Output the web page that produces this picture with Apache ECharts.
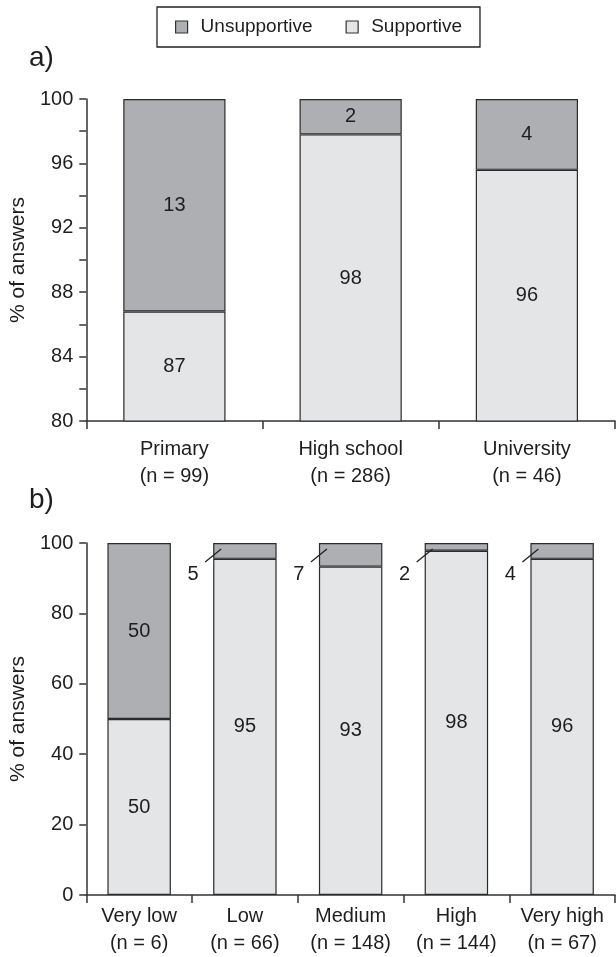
<!DOCTYPE html>
<html>
<head>
<meta charset="utf-8">
<script src="https://cdn.jsdelivr.net/npm/echarts@6/dist/echarts.min.js"></script>
<style>
html,body{margin:0;padding:0;background:#fff;}
#chart{width:616px;height:957px;}
</style>
</head>
<body>
<div id="chart"></div>
<script>
// ---- data ----
const seriesNames = ['Unsupportive', 'Supportive'];

const catsA = ['Primary\n(n = 99)', 'High school\n(n = 286)', 'University\n(n = 46)'];
const supportiveA = [86.8, 97.8, 95.6];
const unsupportiveA = [13.2, 2.2, 4.4];
const supportiveLabelsA = ['87', '98', '96'];
const unsupportiveLabelsA = ['13', '2', '4'];
const ticksA = [80, 84, 88, 92, 96, 100];

const catsB = ['Very low\n(n = 6)', 'Low\n(n = 66)', 'Medium\n(n = 148)', 'High\n(n = 144)', 'Very high\n(n = 67)'];
const supportiveB = [50, 95.5, 93.3, 97.8, 95.5];
const unsupportiveB = [50, 4.5, 6.7, 2.2, 4.5];
const supportiveLabelsB = ['50', '95', '93', '98', '96'];
const unsupportiveLabelsB = ['50', '5', '7', '2', '4'];
const ticksB = [0, 20, 40, 60, 80, 100];

// ---- style ----
const FONT = '"Liberation Sans", Arial, Helvetica, sans-serif';
const DARK = '#aeafb3';
const LIGHT = '#e4e5e7';
const EDGE = '#2b2b2b';
const TXT = '#1e1e1e';

const chart = echarts.init(document.getElementById('chart'), null, {renderer: 'canvas'});

function barItemStyle(color) {
  return {color: color, borderColor: EDGE, borderWidth: 1.2};
}
function insideLabel(labels, minVal, values) {
  return {
    show: true, position: 'inside', fontSize: 20, color: TXT, fontFamily: FONT,
    formatter: p => (values[p.dataIndex] >= minVal ? labels[p.dataIndex] : '')
  };
}
function xAxisCfg(gridIndex, cats, margin) {
  return {
    type: 'category', gridIndex: gridIndex, data: cats,
    axisLine: {show: true, lineStyle: {color: '#333', width: 1.5}},
    axisTick: {show: true, length: 8, lineStyle: {color: '#333', width: 1.5}},
    axisLabel: {fontSize: 20, color: TXT, fontFamily: FONT, lineHeight: 27, margin: margin, interval: 0}
  };
}
function yAxisCfg(gridIndex, min, max, interval, shown) {
  return {
    type: 'value', gridIndex: gridIndex, min: min, max: max, interval: interval,
    name: '% of answers', nameLocation: 'middle', nameGap: 46, nameRotate: 90,
    nameTextStyle: {fontSize: 21, color: TXT, fontFamily: FONT},
    axisLine: {show: true, lineStyle: {color: '#333', width: 1.5}},
    axisTick: {show: true, length: 7, lineStyle: {color: '#333', width: 1.5}},
    axisLabel: {fontSize: 20, color: TXT, fontFamily: FONT, margin: 13,
      formatter: v => (shown.indexOf(v) >= 0 ? String(v) : '')},
    splitLine: {show: false}
  };
}

const smallB = [];
unsupportiveB.forEach((v, i) => { if (v < 10) smallB.push([i, v]); });

const option = {
  animation: false,
  backgroundColor: '#fff',
  textStyle: {fontFamily: FONT},
  legend: {
    data: seriesNames, left: 157, top: 7, orient: 'horizontal',
    icon: 'rect', itemWidth: 12, itemHeight: 12, itemGap: 33,
    padding: [10, 18, 10, 18],
    borderColor: '#222', borderWidth: 1.3,
    itemStyle: {borderColor: '#333', borderWidth: 1.2},
    textStyle: {fontSize: 19, color: TXT, fontFamily: FONT, padding: [0, 0, 0, 8], lineHeight: 20}
  },
  graphic: [
    {type: 'text', left: 29, top: 44, style: {text: 'a)', font: '28px ' + FONT, fill: TXT}},
    {type: 'text', left: 29, top: 486, style: {text: 'b)', font: '28px ' + FONT, fill: TXT}}
  ],
  grid: [
    {left: 85, right: 1, top: 99, height: 322},
    {left: 84, right: 1, top: 543, height: 358}
  ],
  xAxis: [xAxisCfg(0, catsA, 15), xAxisCfg(1, catsB, 8)],
  yAxis: [yAxisCfg(0, 80, 100, 2, ticksA), yAxisCfg(1, 0, 100, 20, ticksB)],
  series: [
    {name: 'Supportive', type: 'bar', stack: 'a', xAxisIndex: 0, yAxisIndex: 0, barWidth: '58%',
     clip: true, data: supportiveA, itemStyle: barItemStyle(LIGHT),
     label: insideLabel(supportiveLabelsA, 0, supportiveA)},
    {name: 'Unsupportive', type: 'bar', stack: 'a', xAxisIndex: 0, yAxisIndex: 0, barWidth: '58%',
     clip: true, data: unsupportiveA, itemStyle: barItemStyle(DARK),
     label: insideLabel(unsupportiveLabelsA, 0, unsupportiveA)},
    {name: 'Supportive', type: 'bar', stack: 'b', xAxisIndex: 1, yAxisIndex: 1, barWidth: '60%',
     data: supportiveB, itemStyle: barItemStyle(LIGHT),
     label: insideLabel(supportiveLabelsB, 0, supportiveB)},
    {name: 'Unsupportive', type: 'bar', stack: 'b', xAxisIndex: 1, yAxisIndex: 1, barWidth: '60%',
     data: unsupportiveB, itemStyle: barItemStyle(DARK),
     label: insideLabel(unsupportiveLabelsB, 10, unsupportiveB)},
    {type: 'custom', xAxisIndex: 1, yAxisIndex: 1, z: 10, silent: true,
     data: smallB,
     renderItem: function (params, api) {
       const i = api.value(0);
       const top = api.coord([i, 100]);
       const band = api.size([1, 0])[0];
       const left = top[0] - band * 0.3;
       return {
         type: 'group',
         children: [
           {type: 'line', shape: {x1: left - 8, y1: top[1] + 19, x2: left + 8, y2: top[1] + 6},
            style: {stroke: '#222', lineWidth: 1.3}},
           {type: 'text', style: {text: unsupportiveLabelsB[i], x: left - 20, y: top[1] + 31,
            align: 'center', verticalAlign: 'middle', font: '20px ' + FONT, fill: TXT}}
         ]
       };
     }}
  ]
};
chart.setOption(option);
</script>
</body>
</html>
